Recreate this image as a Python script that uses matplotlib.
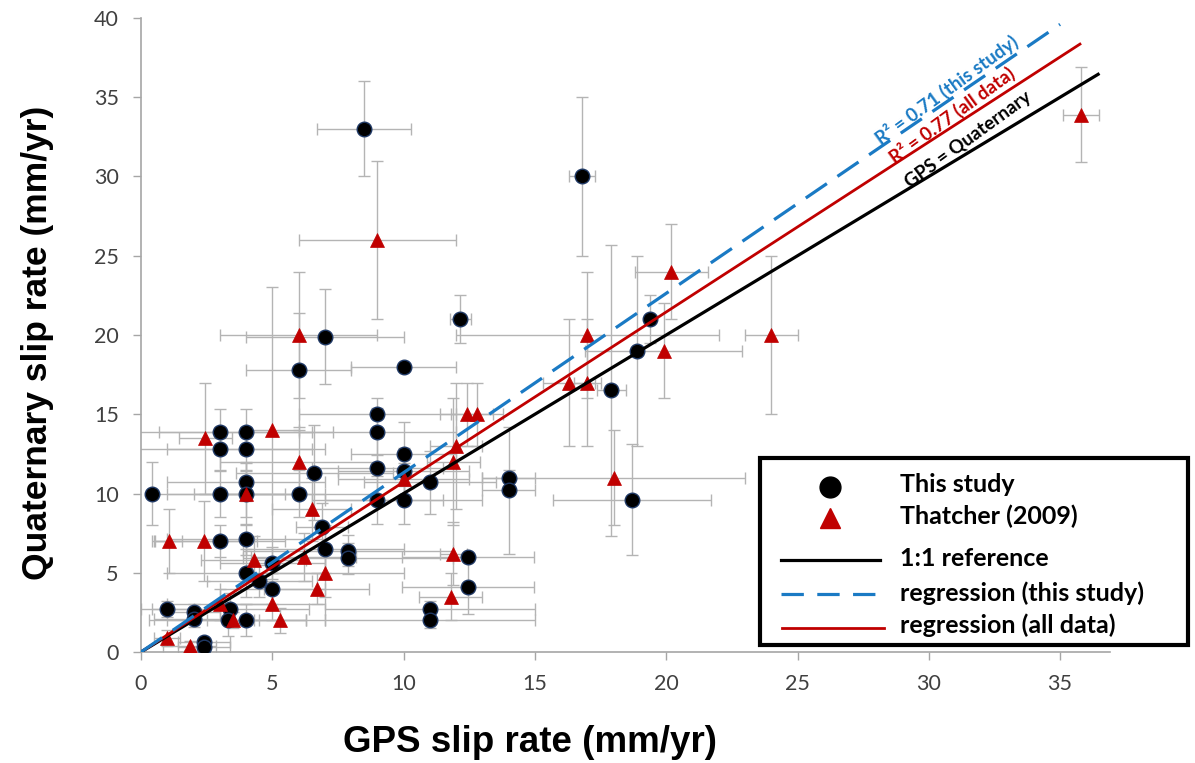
import matplotlib
matplotlib.use("Agg")
import matplotlib.pyplot as plt
from matplotlib.lines import Line2D
from matplotlib.patches import Rectangle
import numpy as np

# ---------------- data ----------------
# This study (circles): x, y, xerr, yerr
study_x = [8.5, 16.8, 12.15, 19.4, 7.0, 10.0, 6.0, 18.9, 17.9, 9.0, 9.0, 3.0, 4.0, 3.0, 4.0,
           10.0, 9.0, 10.0, 6.6, 14.0, 14.0, 11.0, 4.0, 0.4, 3.0, 4.0, 6.0, 9.0, 10.0, 18.7,
           3.0, 4.0, 6.9, 7.0, 7.9, 7.9, 5.0, 4.0, 4.5, 5.0, 12.45, 12.45, 1.0, 2.0, 2.0,
           3.4, 3.3, 4.0, 11.0, 11.0, 2.4, 2.4]
study_y = [33.0, 30.0, 21.0, 21.0, 19.9, 18.0, 17.8, 19.0, 16.5, 15.0, 13.9, 13.9, 13.9, 12.8, 12.8,
           12.5, 11.6, 11.4, 11.3, 11.0, 10.2, 10.7, 10.7, 10.0, 10.0, 10.0, 10.0, 9.6, 9.6, 9.6,
           7.0, 7.1, 7.9, 6.5, 6.4, 5.9, 5.6, 5.0, 4.5, 4.0, 6.0, 4.1, 2.7, 2.5, 2.1,
           2.7, 2.0, 2.0, 2.7, 2.0, 0.6, 0.3]
study_xerr = [1.8, 0.5, 0.4, 0.0, 3.0, 2.0, 2.0, 0.0, 0.55, 3.0, 3.0, 3.5, 3.3, 3.5, 3.0,
              2.0, 2.5, 2.5, 3.0, 1.0, 1.0, 2.5, 3.0, 0.0, 2.5, 3.0, 3.0, 2.5, 3.0, 3.0,
              2.5, 3.0, 1.0, 3.0, 4.0, 4.0, 2.0, 3.0, 2.0, 2.0, 2.5, 2.5, 1.0, 1.0, 1.5,
              3.0, 3.0, 3.0, 4.0, 4.0, 1.0, 1.0]
study_yerr = [3.0, 5.0, 1.5, 1.5, 3.0, 0.0, 3.6, 6.0, 9.2, 1.0, 1.5, 1.4, 1.4, 1.4, 1.4,
              2.0, 2.0, 1.5, 3.0, 0.5, 4.0, 2.0, 1.2, 2.0, 1.5, 1.5, 1.5, 1.5, 1.5, 3.5,
              1.0, 1.0, 1.5, 1.5, 1.0, 1.0, 1.0, 1.5, 1.0, 1.0, 0.0, 1.7, 0.5, 0.5, 0.5,
              1.0, 1.0, 1.0, 0.5, 0.5, 0.3, 0.3]

# Thatcher (2009) (triangles)
thatcher_x = [9.0, 20.2, 6.0, 17.0, 24.0, 19.9, 16.3, 17.0, 12.4, 12.8, 5.0, 2.45, 12.0, 11.9,
              6.0, 10.0, 18.0, 4.0, 6.5, 1.05, 2.4, 4.3, 6.2, 11.9, 7.0, 6.7, 3.0, 5.0, 11.8,
              3.5, 5.3, 1.0, 1.85, 35.8]
thatcher_y = [26.0, 24.0, 20.0, 20.0, 20.0, 19.0, 17.0, 17.0, 15.0, 15.0, 14.0, 13.5, 13.0, 12.0,
              12.0, 10.9, 11.0, 10.0, 9.0, 7.0, 7.0, 5.8, 6.0, 6.2, 5.0, 4.0, 3.0, 3.0, 3.5,
              2.0, 2.0, 0.9, 0.4, 33.9]
thatcher_xerr = [3.0, 1.4, 3.0, 5.0, 1.0, 3.0, 1.0, 0.5, 1.0, 1.0, 1.0, 1.0, 1.0, 1.0,
                 3.0, 2.5, 5.0, 2.0, 1.5, 0.5, 2.0, 2.0, 2.0, 0.5, 3.0, 2.0, 2.0, 2.0, 1.2,
                 1.0, 1.0, 0.5, 1.0, 0.7]
thatcher_yerr = [5.0, 3.0, 4.0, 4.0, 5.0, 3.0, 4.0, 4.0, 2.0, 2.0, 9.0, 3.5, 4.0, 4.0,
                 2.0, 1.0, 3.0, 2.0, 2.0, 2.0, 2.5, 1.5, 1.5, 2.0, 1.5, 1.0, 1.0, 1.0, 1.5,
                 0.5, 0.8, 0.5, 0.3, 3.0]

# reference / regression lines
ref_x = [0.0, 36.5]
ref_y = [0.0, 36.5]
reg_all_x = [0.0, 35.8]
reg_all_y = [0.0, 38.4]
reg_study_x = [0.0, 35.0]
reg_study_y = [0.0, 39.6]

x_ticks = [0, 5, 10, 15, 20, 25, 30, 35]
y_ticks = [0, 5, 10, 15, 20, 25, 30, 35, 40]

# ---------------- figure ----------------
W, H = 1195, 763
fig = plt.figure(figsize=(W / 100, H / 100), dpi=100)
L, R, B, T = 141, 1110, 652, 18
ax = fig.add_axes([L / W, 1 - B / H, (R - L) / W, (B - T) / H])
ax.set_xlim(0, 36.9)
ax.set_ylim(0, 40)

grey = "#b4b4b4"
ax.errorbar(study_x, study_y, xerr=study_xerr, yerr=study_yerr, fmt="none",
            ecolor=grey, elinewidth=1.0, capsize=4, capthick=1.0, zorder=1)
ax.errorbar(thatcher_x, thatcher_y, xerr=thatcher_xerr, yerr=thatcher_yerr, fmt="none",
            ecolor=grey, elinewidth=1.0, capsize=4, capthick=1.0, zorder=1)

ax.plot(study_x, study_y, "o", ms=10.5, mfc="black", mec="#1f3864", mew=1.0,
        linestyle="none", zorder=3)
ax.plot(thatcher_x, thatcher_y, "^", ms=10.5, mfc="#c00000", mec="#c00000", mew=0.5,
        linestyle="none", zorder=3)

ax.plot(ref_x, ref_y, color="black", lw=2.3, zorder=4, solid_capstyle="butt")
ax.plot(reg_all_x, reg_all_y, color="#c00000", lw=2.0, zorder=4, solid_capstyle="butt")
ax.plot(reg_study_x, reg_study_y, color="#1a7ac4", lw=2.3, dashes=(8, 4), zorder=4)

tick_font = dict(family=["Lato", "DejaVu Sans"], size=15.5, color="#404040")
ax.set_xticks(x_ticks)
ax.set_yticks(y_ticks)
ax.set_xticklabels([str(v) for v in x_ticks], **tick_font)
ax.set_yticklabels([str(v) for v in y_ticks], **tick_font)
ax.tick_params(axis="both", direction="out", length=6, width=1, color="#a6a6a6", pad=10)
for s in ["top", "right"]:
    ax.spines[s].set_visible(False)
for s in ["left", "bottom"]:
    ax.spines[s].set_color("#a6a6a6")
    ax.spines[s].set_linewidth(1.2)

# line annotations
ann_font = dict(family=["Lato", "DejaVu Sans"], weight="bold", size=13.5,
                rotation=36, rotation_mode="anchor", ha="center", va="bottom")
ax.text(31.7, 31.9, "GPS = Quaternary", color="black", **ann_font)
ax.text(31.1, 33.4, "R\u00b2 = 0.77 (all data)", color="#c00000", **ann_font)
ax.text(30.9, 35.0, "R\u00b2 = 0.71 (this study)", color="#1a7ac4", **ann_font)

# axis labels
lab_font = dict(family=["Liberation Sans", "DejaVu Sans"], weight="bold", color="black")
fig.text(530 / W, 1 - 743 / H, "GPS slip rate (mm/yr)", ha="center", va="center",
         size=26.5, **lab_font)
fig.text(38 / W, 1 - 343 / H, "Quaternary slip rate (mm/yr)", ha="center", va="center",
         rotation=90, size=25.5, **lab_font)

# legend (manual, in figure pixel space)
def fx(px):
    return px / W

def fy(py):
    return 1 - py / H

fig.add_artist(Rectangle((fx(760), fy(645)), fx(1188) - fx(760), fy(458) - fy(645),
                         transform=fig.transFigure, fill=True, facecolor="white",
                         edgecolor="black", lw=3, zorder=10))
fig.add_artist(Line2D([fx(830)], [fy(487)], marker="o", ms=15, mfc="black", mec="black",
                      linestyle="none", transform=fig.transFigure, zorder=11))
fig.add_artist(Line2D([fx(830)], [fy(518)], marker="^", ms=15, mfc="#c00000", mec="#c00000",
                      linestyle="none", transform=fig.transFigure, zorder=11))
fig.add_artist(Line2D([fx(781), fx(880)], [fy(560), fy(560)], color="black", lw=2.3,
                      transform=fig.transFigure, zorder=11))
fig.add_artist(Line2D([fx(781), fx(880)], [fy(594), fy(594)], color="#1a7ac4", lw=2.3,
                      dashes=(7, 4.2), transform=fig.transFigure, zorder=11))
fig.add_artist(Line2D([fx(782), fx(884)], [fy(628), fy(628)], color="#c00000", lw=2.0,
                      transform=fig.transFigure, zorder=11))
leg_font = dict(family=["Lato", "DejaVu Sans"], weight="bold", size=18, color="black",
                ha="left", va="center", zorder=12)
legend_labels = ["This study", "Thatcher (2009)", "1:1 reference",
                 "regression (this study)", "regression (all data)"]
for lab, py in zip(legend_labels, [485, 516, 559, 593, 625]):
    fig.text(fx(900), fy(py), lab, **leg_font)

fig.savefig("out.png", dpi=100)
